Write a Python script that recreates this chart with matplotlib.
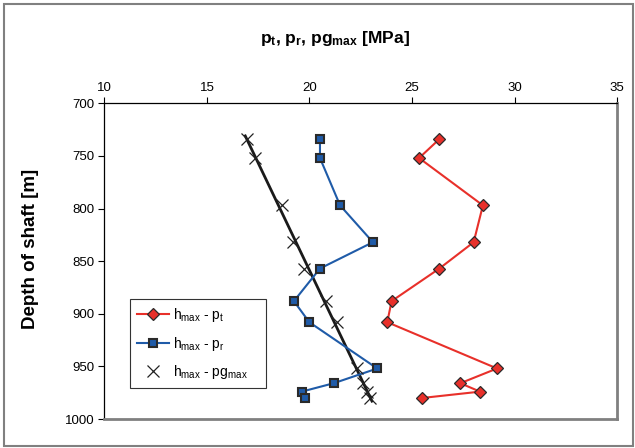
import numpy as np
import matplotlib
matplotlib.use("Agg")
import matplotlib.pyplot as plt
from matplotlib.patches import Rectangle

plt.rcParams['font.family'] = ['Liberation Sans', 'DejaVu Sans']
plt.rcParams['mathtext.default'] = 'regular'

# Depth of shaft [m]
depth = [734, 752, 797, 832, 857, 888, 908, 952, 966, 974, 980]
# Pressures [MPa]
p_t = [26.33, 25.34, 28.45, 28.0, 26.33, 24.0, 23.79, 29.14, 27.35, 28.31, 25.5]
p_r = [20.51, 20.51, 21.49, 23.09, 20.51, 19.24, 19.99, 23.3, 21.18, 19.62, 19.8]
pg_max = [16.95, 17.36, 18.67, 19.21, 19.73, 20.8, 21.33, 22.33, 22.62, 22.79, 22.95]

x_ticks = [10, 15, 20, 25, 30, 35]
y_ticks = [700, 750, 800, 850, 900, 950, 1000]

fig = plt.figure(figsize=(6.35, 4.48), dpi=100)
ax = fig.add_axes([104.3 / 635, 1 - 419 / 448, 513 / 635, 315.7 / 448])

red = '#E8302A'
blue = '#1F5BA8'
edge = '#2a2a2a'

ax.plot(p_t, depth, color=red, lw=1.5, marker='D', ms=5.8, mfc=red,
        mec=edge, mew=0.9, label=r'h$_{max}$ - p$_t$', zorder=3)
ax.plot(p_r, depth, color=blue, lw=1.5, marker='s', ms=6, mfc=blue,
        mec=edge, mew=1.5, label=r'h$_{max}$ - p$_r$', zorder=3)
ax.plot(pg_max, depth, ls='none', marker='x', ms=8, mew=0.9, color='#222222',
        label=r'h$_{max}$ - pg$_{max}$', zorder=4)

# linear trend of pg_max against depth
coef = np.polyfit(depth, pg_max, 1)
d_fit = np.array([min(depth) - 3, max(depth) + 3])
ax.plot(np.polyval(coef, d_fit), d_fit, color='#1a1a1a', lw=2, zorder=2)

ax.set_xlim(10, 35)
ax.set_ylim(1000, 700)
ax.set_xticks(x_ticks)
ax.set_yticks(y_ticks)
ax.xaxis.tick_top()
ax.tick_params(axis='both', direction='out', length=4, width=0.8,
               labelsize=9.5, colors='black', pad=3)

ax.spines['left'].set_color('black')
ax.spines['top'].set_color('black')
ax.spines['left'].set_linewidth(0.9)
ax.spines['top'].set_linewidth(0.9)
for s in ('right', 'bottom'):
    ax.spines[s].set_color('#808080')
    ax.spines[s].set_linewidth(2)

leg = ax.legend(loc='upper left', bbox_to_anchor=(0.0507, 0.1004, 0.264, 0.2786),
                mode='expand', fontsize=10, frameon=True, fancybox=False,
                framealpha=1, edgecolor='#333333', handlelength=2.3,
                handletextpad=0.3, labelspacing=0.75, borderpad=0.5,
                borderaxespad=0)
leg.get_frame().set_linewidth(0.8)

fig.text(335 / 635, 1 - 38 / 448, r'p$_t$, p$_r$, pg$_{max}$ [MPa]',
         ha='center', va='center', fontsize=12.5, fontweight='bold')
fig.text(31 / 635, 1 - 249 / 448, 'Depth of shaft [m]', rotation=90,
         ha='center', va='center', fontsize=13.5, fontweight='bold')

# outer chart border
fig.patches.append(Rectangle((4 / 635, 2.5 / 448), 629 / 635, 441 / 448,
                             transform=fig.transFigure, fill=False,
                             edgecolor='#808080', lw=1.5))

fig.savefig('out.png', dpi=100)
